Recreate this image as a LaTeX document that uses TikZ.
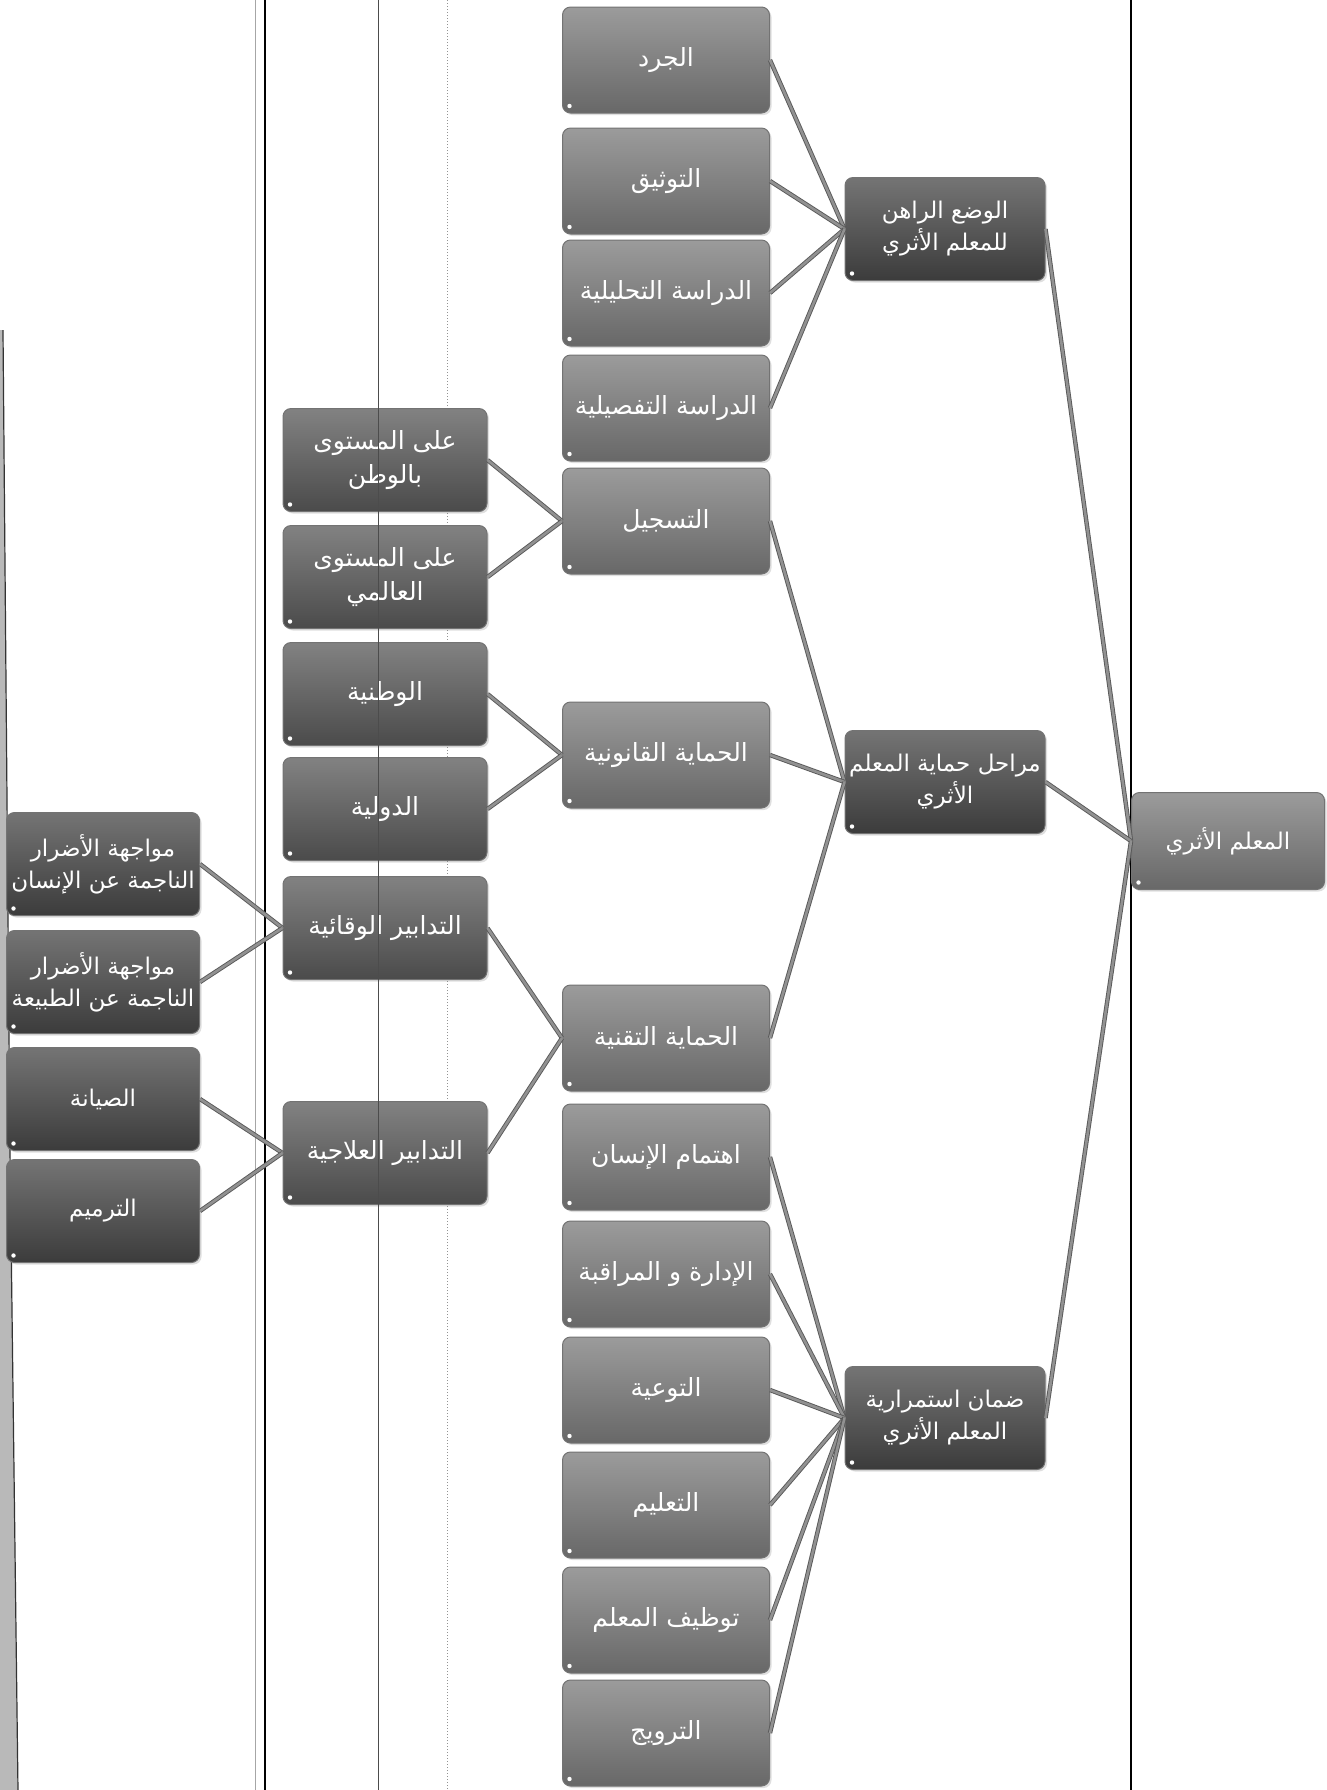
\documentclass[tikz,border=0pt]{standalone}
\usepackage{fontspec}
\newfontfamily\arabicfont[Script=Arabic]{DejaVu Sans}
\TeXXeTstate=1
\usetikzlibrary{shadows}
\definecolor{BoxDark}{RGB}{70,70,70}
\definecolor{BoxMid}{RGB}{88,88,88}
\definecolor{BoxLight}{RGB}{122,122,122}
\definecolor{LinkGray}{RGB}{145,145,145}
\newcommand{\artxt}[1]{{\arabicfont\beginR #1\endR}}

\begin{document}
\begin{tikzpicture}[x=0.5pt, y=-0.5pt,
    box/.style={rounded corners=4pt, draw=black!55, line width=0.5pt,
      top color=#1!75!white, bottom color=#1!85!black, text=white,
      align=center, font=\fontsize{11.5}{16}\selectfont, inner sep=2pt,
      drop shadow={opacity=0.25, shadow xshift=1pt, shadow yshift=-1pt},
      path picture={\fill[white] ([shift={(3.5pt,3.5pt)}]path picture bounding box.south west) circle (1.1pt);}},
    box/.default=BoxMid,
    abox/.style={box=BoxDark, minimum width=96.5pt, minimum height=51.5pt},
    bbox/.style={box=BoxMid, minimum width=102pt, minimum height=51.5pt, font=\fontsize{12.5}{17}\selectfont},
    cbox/.style={box=BoxLight, minimum width=103.5pt, minimum height=53pt, font=\fontsize{12.5}{17}\selectfont},
    dbox/.style={box=BoxDark, minimum width=100pt, minimum height=51.5pt},
    ebox/.style={box=BoxLight, minimum width=96.5pt, minimum height=48.5pt},
    link/.style={draw=black!65, double=LinkGray, double distance=1.3pt, line width=0.45pt}]
  \useasboundingbox (0,0) rectangle (1327,1790);
  \fill[white] (0,0) rectangle (1327,1790);

  % scan edge and page rules
  \fill[gray!55] (0,330) -- (3,330) -- (10,1150) -- (18,1790) -- (0,1790) -- cycle;
  \draw[black!80, line width=0.6pt] (3,330) -- (10,1150) -- (18,1790);
  \draw[gray!70, line width=0.5pt] (255,0) -- (255,1790);
  \draw[black, line width=1.1pt] (265,0) -- (265,1790);
  \draw[gray!85, line width=0.5pt, densely dotted] (447,0) -- (447,1790);
  \draw[black, line width=0.7pt] (1131,0) -- (1131,1790);

  % right side
  \node[ebox] (root) at (1228,841) {\artxt{المعلم الأثري}};
  \node[dbox] (cur) at (945,229) {\artxt{الوضع الراهن}\\\artxt{للمعلم الأثري}};
  \node[dbox] (stages) at (945,782) {\artxt{مراحل حماية المعلم}\\\artxt{الأثري}};
  \node[dbox] (cont) at (945,1418) {\artxt{ضمان استمرارية}\\\artxt{المعلم الأثري}};

  % middle column
  \node[cbox] (inv) at (666,60) {\artxt{الجرد}};
  \node[cbox] (doc) at (666,181) {\artxt{التوثيق}};
  \node[cbox] (ana) at (666,293) {\artxt{الدراسة التحليلية}};
  \node[cbox] (det) at (666,408) {\artxt{الدراسة التفصيلية}};
  \node[cbox] (reg) at (666,521) {\artxt{التسجيل}};
  \node[cbox] (legal) at (666,755) {\artxt{الحماية القانونية}};
  \node[cbox] (tech) at (666,1038) {\artxt{الحماية التقنية}};
  \node[cbox] (care) at (666,1157) {\artxt{اهتمام الإنسان}};
  \node[cbox] (mgmt) at (666,1274) {\artxt{الإدارة و المراقبة}};
  \node[cbox] (aware) at (666,1390) {\artxt{التوعية}};
  \node[cbox] (edu) at (666,1505) {\artxt{التعليم}};
  \node[cbox] (use) at (666,1620) {\artxt{توظيف المعلم}};
  \node[cbox] (promo) at (666,1733) {\artxt{الترويج}};

  % second column
  \node[bbox] (natl) at (385,460) {\artxt{على المستوى}\\\artxt{بالوطن}};
  \node[bbox] (world) at (385,577) {\artxt{على المستوى}\\\artxt{العالمي}};
  \node[bbox] (nat) at (385,694) {\artxt{الوطنية}};
  \node[bbox] (intl) at (385,809) {\artxt{الدولية}};
  \node[bbox] (prev) at (385,928) {\artxt{التدابير الوقائية}};
  \node[bbox] (cure) at (385,1153) {\artxt{التدابير العلاجية}};

  % left column
  \node[abox] (human) at (103,864) {\artxt{مواجهة الأضرار}\\\artxt{الناجمة عن الإنسان}};
  \node[abox] (nature) at (103,982) {\artxt{مواجهة الأضرار}\\\artxt{الناجمة عن الطبيعة}};
  \node[abox] (maint) at (103,1099) {\artxt{الصيانة}};
  \node[abox] (restore) at (103,1211) {\artxt{الترميم}};

  \draw[black!70, line width=0.4pt] (378,0) -- (378,1790);

  \foreach \c in {cur,stages,cont} \draw[link] (\c.east) -- (root.west);
  \foreach \c in {inv,doc,ana,det} \draw[link] (\c.east) -- (cur.west);
  \foreach \c in {reg,legal,tech} \draw[link] (\c.east) -- (stages.west);
  \foreach \c in {care,mgmt,aware,edu,use,promo} \draw[link] (\c.east) -- (cont.west);
  \foreach \c in {natl,world} \draw[link] (\c.east) -- (reg.west);
  \foreach \c in {nat,intl} \draw[link] (\c.east) -- (legal.west);
  \foreach \c in {prev,cure} \draw[link] (\c.east) -- (tech.west);
  \foreach \c in {human,nature} \draw[link] (\c.east) -- (prev.west);
  \foreach \c in {maint,restore} \draw[link] (\c.east) -- (cure.west);
\end{tikzpicture}
\end{document}
